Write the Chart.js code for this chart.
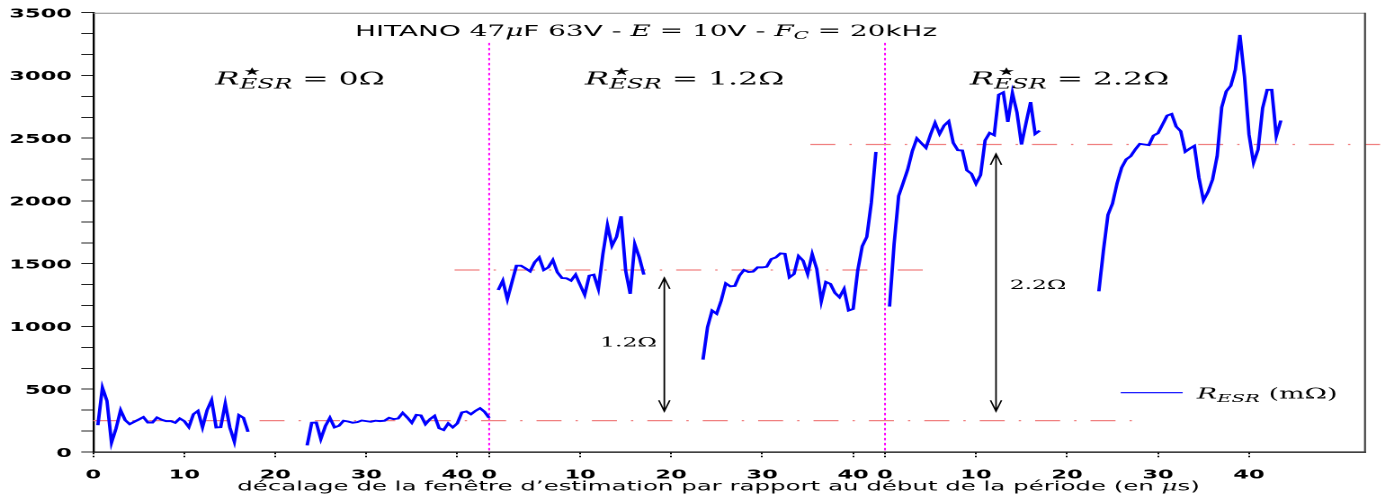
<!DOCTYPE html>
<html>
<head>
<meta charset="utf-8">
<title>HITANO 47µF 63V – R_ESR</title>
<script src="https://cdn.jsdelivr.net/npm/chart.js@4.4.1/dist/chart.umd.min.js"></script>
<style>
  html, body { margin: 0; padding: 0; background: #fff; overflow: hidden; }
  body { width: 1385px; height: 497px; position: relative; }
  /* the plot is laid out on a narrower canvas and widened horizontally */
  #stage { position: absolute; left: 0; top: 0; width: 770px; height: 497px;
           transform: scaleX(1.7987013); transform-origin: 0 0; }
</style>
</head>
<body>
<div id="stage"><canvas id="chart"></canvas></div>
<script>
// ---------------------------------------------------------------- data
const PANEL_WIDTH = 43.5;   // µs of window offset covered by one panel
const STEP = 0.5;           // µs between two estimation windows
const X_MAX = 139.75;
const panelTickLabels = [0, 10, 20, 30, 40];
const yTickLabels = [0, 500, 1000, 1500, 2000, 2500, 3000, 3500];

// R_ESR estimates in mΩ, R*_ESR = 0 Ω
const esr0First = [214, 513, 407, 74, 188, 333, 254, 222, 241, 259, 278, 235, 235, 275, 257, 246, 246,
  233, 267, 246, 198, 301, 328, 196, 333, 413, 196, 198, 386, 196, 82, 294, 272, 161];
const esr0Second = [53, 233, 235, 103, 206, 272, 196, 209, 249, 243, 233, 238, 251, 246, 241, 249, 246,
  249, 272, 262, 267, 312, 275, 233, 296, 291, 222, 262, 288, 190, 175, 228, 196, 228, 315, 323, 301,
  328, 349, 320, 272];
// R*_ESR = 1.2 Ω
const esr12First = [1291, 1365, 1217, 1352, 1484, 1484, 1463, 1439, 1511, 1550, 1450, 1471, 1529, 1431,
  1386, 1384, 1365, 1413, 1331, 1252, 1405, 1413, 1299, 1577, 1807, 1643, 1714, 1878, 1445, 1260, 1656,
  1550, 1413];
const esr12Second = [736, 995, 1127, 1101, 1206, 1344, 1320, 1323, 1405, 1450, 1434, 1437, 1471, 1471,
  1476, 1537, 1550, 1582, 1579, 1391, 1418, 1561, 1524, 1418, 1577, 1458, 1201, 1355, 1339, 1268, 1233,
  1299, 1127, 1140, 1445, 1640, 1714, 1987, 2391];
// R*_ESR = 2.2 Ω
const esr22First = [1159, 1656, 2040, 2145, 2252, 2397, 2498, 2460, 2423, 2529, 2622, 2534, 2601, 2635,
  2463, 2405, 2402, 2244, 2217, 2137, 2206, 2482, 2542, 2524, 2847, 2865, 2630, 2860, 2706, 2450, 2622,
  2788, 2534, 2561];
const esr22Second = [1280, 1603, 1889, 1979, 2140, 2265, 2331, 2357, 2410, 2455, 2450, 2445, 2521, 2540,
  2609, 2680, 2693, 2593, 2556, 2392, 2418, 2439, 2185, 2005, 2072, 2172, 2357, 2746, 2873, 2918, 3045,
  3323, 2992, 2529, 2304, 2410, 2741, 2886, 2886, 2516, 2641];

// runs of windows: panel index, first offset (µs) in the panel, values
const runs = [
  { panel: 0, start: 0.5,  values: esr0First },
  { panel: 0, start: 23.5, values: esr0Second },
  { panel: 1, start: 1.0,  values: esr12First },
  { panel: 1, start: 23.5, values: esr12Second },
  { panel: 2, start: 0.5,  values: esr22First },
  { panel: 2, start: 23.5, values: esr22Second },
];

// expected ESR levels (mΩ) and the stretch of shared axis they cover (µs)
const refLevels = [250, 1450, 2450];
const refStart  = [0, 39.7, 78.8];
const refEnd    = [115.0, 91.2, 141.4];

// double arrows showing the added resistance
const deltaArrows = [
  { x: 62.75, from: 325, to: 1387, text: '1.2Ω', tx: 55.7,  ty: 841 },
  { x: 99.2,  from: 325, to: 2375, text: '2.2Ω', tx: 100.7, ty: 1299 },
];
const panelLabels = [
  { x: 13.4, y: 2926, value: '0Ω' },
  { x: 54.0, y: 2926, value: '1.2Ω' },
  { x: 96.3, y: 2926, value: '2.2Ω' },
];
const separatorTop = 3260;

// --------------------------------------------------------------- helpers
const STRETCH = 1385 / 770;
const cx = v => v / STRETCH;          // page pixels -> canvas pixels (horizontal)
const SERIF = '"DejaVu Serif"';
const SANS = '"DejaVu Sans"';
const fnt = (size, family, style = '') => `${style} ${size}px ${family}`.trim();

const xTickValues = [];
for (let p = 0; p < 3; p++) panelTickLabels.forEach(t => xTickValues.push(p * PANEL_WIDTH + t));
const yTickValues = Array.from({ length: 22 }, (_, i) => i * 500 / 3);
const panelEdges = [PANEL_WIDTH, 2 * PANEL_WIDTH];

const esrPoints = [];
runs.forEach((r, k) => {
  const x0 = r.panel * PANEL_WIDTH + r.start;
  if (k > 0) esrPoints.push({ x: x0 - STEP / 2, y: null });
  r.values.forEach((v, i) => esrPoints.push({ x: x0 + i * STEP, y: v }));
});

function richWidth(ctx, parts) {
  return parts.reduce((w, p) => {
    ctx.font = p[1];
    return w + (p[3] === false ? 0 : ctx.measureText(p[0]).width);
  }, 0);
}
function drawRich(ctx, parts, x, y, align) {
  let cur = align === 'center' ? x - richWidth(ctx, parts) / 2 : x;
  ctx.textAlign = 'left';
  ctx.textBaseline = 'alphabetic';
  parts.forEach(p => {
    ctx.font = p[1];
    ctx.fillText(p[0], cur, y + (p[2] || 0));
    if (p[3] !== false) cur += ctx.measureText(p[0]).width;
  });
}

// --------------------------------------------------------------- datasets
const datasets = [{
  label: 'R_ESR (mΩ)',
  data: esrPoints,
  borderColor: '#0000ff',
  borderWidth: 1.9,
  pointRadius: 0,
  spanGaps: false,
  tension: 0,
  order: 0,
}];
refLevels.forEach((lvl, i) => datasets.push({
  label: 'level ' + lvl,
  data: [{ x: refStart[i], y: lvl }, { x: refEnd[i], y: lvl }],
  borderColor: 'rgb(240,128,128)',
  borderWidth: 1.3,
  borderDash: [13.9, 7.8, 1.3, 7.8],
  pointRadius: 0,
  order: 1,
  clip: false,
}));

// --------------------------------------------------------------- drawing
const decor = {
  id: 'decor',
  beforeDatasetsDraw(chart) {
    const { ctx, chartArea: a, scales: { x, y } } = chart;
    ctx.save();
    ctx.strokeStyle = '#ff00ff';
    ctx.lineWidth = 1;
    ctx.setLineDash([2.5, 2.5]);
    panelEdges.forEach(v => {
      const px = x.getPixelForValue(v);
      ctx.beginPath();
      ctx.moveTo(px, y.getPixelForValue(separatorTop));
      ctx.lineTo(px, a.bottom);
      ctx.stroke();
    });
    ctx.restore();
  },
  afterDatasetsDraw(chart) {
    const { ctx, scales: { x, y } } = chart;
    ctx.save();
    ctx.fillStyle = '#000';
    ctx.strokeStyle = '#000';

    // added-resistance arrows
    const wing = cx(5.5), head = 11;
    ctx.lineWidth = 0.9;
    deltaArrows.forEach(d => {
      const px = x.getPixelForValue(d.x);
      const top = y.getPixelForValue(d.to), bot = y.getPixelForValue(d.from);
      ctx.beginPath();
      ctx.moveTo(px, top); ctx.lineTo(px, bot);
      ctx.moveTo(px - wing, top + head); ctx.lineTo(px, top); ctx.lineTo(px + wing, top + head);
      ctx.moveTo(px - wing, bot - head); ctx.lineTo(px, bot); ctx.lineTo(px + wing, bot - head);
      ctx.stroke();
      drawRich(ctx, [[d.text, fnt(13, SERIF)]], x.getPixelForValue(d.tx), y.getPixelForValue(d.ty));
    });

    // R*_ESR of each panel
    panelLabels.forEach(l => {
      drawRich(ctx, [
        ['R', fnt(18, SERIF, 'italic')],
        ['⋆', fnt(22, SANS), -6, false],
        ['ESR', fnt(13.5, SERIF, 'italic'), 4],
        [' = ' + l.value, fnt(17.5, SERIF)],
      ], x.getPixelForValue(l.x), y.getPixelForValue(l.y));
    });

    // title
    const T = 15.5;
    drawRich(ctx, [
      ['HITANO ', fnt(T, SANS)], ['47', fnt(T, SERIF)], ['μ', fnt(T, SERIF, 'italic')],
      ['F ', fnt(T, SANS)], ['63', fnt(T, SERIF)], ['V - ', fnt(T, SANS)],
      ['E', fnt(T, SERIF, 'italic')], [' = 10', fnt(T, SERIF)], ['V - ', fnt(T, SANS)],
      ['F', fnt(T, SERIF, 'italic')], ['C', fnt(11, SERIF, 'italic'), 3],
      [' = 20', fnt(T, SERIF)], ['kHz', fnt(T, SANS)],
    ], cx(646), 36, 'center');

    // legend
    ctx.strokeStyle = '#0000ff';
    ctx.lineWidth = 1.2;
    ctx.beginPath();
    ctx.moveTo(cx(1120.7), 392.7);
    ctx.lineTo(cx(1182.7), 392.7);
    ctx.stroke();
    drawRich(ctx, [
      ['R', fnt(15, SERIF, 'italic')], ['ESR', fnt(11, SERIF, 'italic'), 3.5], [' (mΩ)', fnt(15, SERIF)],
    ], cx(1196.7), 398.3);

    // x axis title
    const A = 13.6;
    drawRich(ctx, [['décalage de la fenêtre d’estimation par rapport au début de la période (en ', fnt(A, SANS)],
      ['μ', fnt(A, SERIF, 'italic')], ['s)', fnt(A, SANS)]], cx(718.5), 490.5, 'center');
    ctx.restore();
  },
  afterDraw(chart) {
    const { ctx, chartArea: a } = chart;
    ctx.save();
    ctx.strokeStyle = '#8a8a8a';
    ctx.lineWidth = 1;
    ctx.beginPath();
    ctx.moveTo(a.left, a.top + 0.5);
    ctx.lineTo(a.right, a.top + 0.5);
    ctx.stroke();
    ctx.strokeStyle = '#444';
    ctx.lineWidth = 1.1;
    ctx.beginPath();
    ctx.moveTo(a.right, a.top);
    ctx.lineTo(a.right, a.bottom);
    ctx.stroke();
    ctx.restore();
  },
};

new Chart(document.getElementById('chart'), {
  type: 'line',
  data: { datasets },
  plugins: [decor],
  options: {
    responsive: true,
    maintainAspectRatio: false,
    animation: false,
    devicePixelRatio: 2,
    events: [],
    layout: { padding: { left: 0, top: 11, right: 770 - cx(1365), bottom: 0 } },
    plugins: { legend: { display: false }, tooltip: { enabled: false } },
    scales: {
      x: {
        type: 'linear',
        min: 0,
        max: X_MAX,
        afterBuildTicks: s => { s.ticks = xTickValues.map(v => ({ value: v })); },
        afterFit: s => { s.height = 45; },
        ticks: {
          autoSkip: false,
          maxRotation: 0,
          padding: 9.5,
          color: '#000',
          font: { family: 'DejaVu Sans', size: 12.5, weight: 'bold' },
          callback: v => {
            const p = Math.floor((v + 1e-6) / PANEL_WIDTH);
            return String(Math.round(v - p * PANEL_WIDTH));
          },
        },
        grid: { drawOnChartArea: false, drawTicks: true, tickLength: 6, tickColor: '#000',
                tickWidth: 1, tickBorderDash: [1.5, 1.5] },
        border: { display: true, color: '#000', width: 1.2 },
      },
      y: {
        min: 0,
        max: 3500,
        afterBuildTicks: s => { s.ticks = yTickValues.map(v => ({ value: v })); },
        afterFit: s => { s.width = cx(93.3); },
        ticks: {
          padding: 5.2,
          labelOffset: 1.5,
          color: '#000',
          font: { family: 'DejaVu Sans', size: 12.5, weight: 'bold' },
          callback: v => (yTickLabels.some(t => Math.abs(t - v) < 1e-6) ? String(Math.round(v)) : ''),
        },
        grid: { drawOnChartArea: false, drawTicks: true, tickLength: 6.7, tickColor: '#222', tickWidth: 1 },
        border: { display: true, color: '#000', width: 1.2 },
      },
    },
  },
});
</script>
</body>
</html>
